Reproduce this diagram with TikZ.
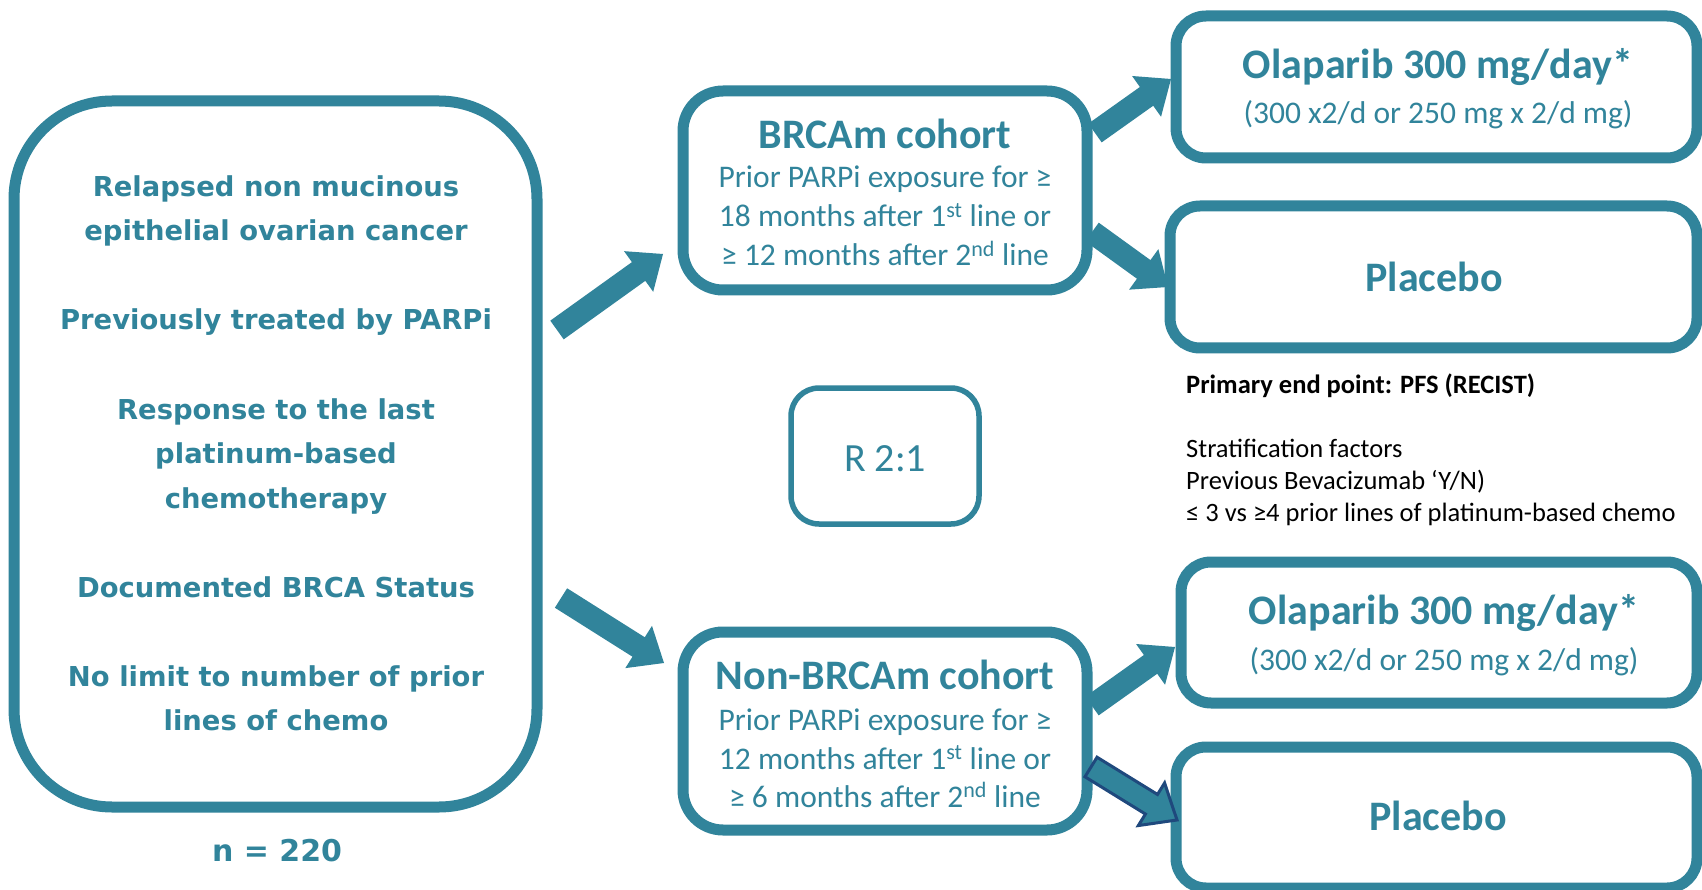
\documentclass[tikz,border=0pt]{standalone}
\usepackage{fontspec}
\setmainfont{Carlito}
\newfontfamily\verd{DejaVu Sans}
\usetikzlibrary{calc}
\definecolor{teal1}{RGB}{49,132,155}
\definecolor{navy1}{RGB}{31,73,125}
% block arrow from tail #2 to tip #3
\newcommand{\blockarrow}[3][]{%
  \coordinate (bh) at ($(#3)!30pt!(#2)$);
  \path[fill=teal1,#1] ($(#2)!11.5pt!90:(#3)$) -- ($(bh)!11.5pt!90:(#3)$)
    -- ($(bh)!25pt!90:(#3)$) -- (#3) -- ($(bh)!25pt!-90:(#3)$)
    -- ($(bh)!11.5pt!-90:(#3)$) -- ($(#2)!11.5pt!-90:(#3)$) -- cycle;}
\begin{document}
\begin{tikzpicture}[x=1pt,y=-1pt,
  box/.style={draw=teal1, line width=11pt, fill=white, rounded corners=#1, inner sep=0pt},
  crit/.style={font=\verd\bfseries\fontsize{27.4}{30}\selectfont, text=teal1, anchor=base, inner sep=0pt},
  ttl/.style={font=\bfseries\fontsize{42}{50}\selectfont, text=teal1, anchor=base, inner sep=0pt},
  bdy/.style={font=\fontsize{31.5}{38}\selectfont, text=teal1, anchor=base, inner sep=0pt},
  note/.style={font=\fontsize{26.5}{32}\selectfont, text=black, anchor=base west, inner sep=0pt}]
\fill[white] (0,0) rectangle (1702,890);
\useasboundingbox (0,0) rectangle (1702,890);

% boxes
\node[box=98pt, minimum width=523pt, minimum height=706pt] (left) at (275.5,454) {};
\node[box=40pt, minimum width=404pt, minimum height=199pt] (brca) at (885,190.5) {};
\node[box=40pt, minimum width=404pt, minimum height=198pt] (nbrca) at (885,731) {};
\node[box=28pt, line width=5.5pt, minimum width=188pt, minimum height=136pt] (rand) at (885,456) {};
\node[box=30pt, minimum width=521pt, minimum height=142pt] (ola1) at (1436.5,87) {};
\node[box=30pt, minimum width=527pt, minimum height=142pt] (pla1) at (1433.5,277) {};
\node[box=30pt, minimum width=516pt, minimum height=141pt] (ola2) at (1439,632.5) {};
\node[box=30pt, minimum width=521pt, minimum height=141pt] (pla2) at (1436.5,817.5) {};

% left criteria
\node[crit] (c1) at (276,196.5) {Relapsed non mucinous};
\node[crit] (c2) at (276,241) {epithelial ovarian cancer};
\node[crit] (c3) at (276,330) {Previously treated by PARPi};
\node[crit] (c4) at (276,419) {Response to the last};
\node[crit] (c5) at (276,463.5) {platinum-based};
\node[crit] (c6) at (276,508) {chemotherapy};
\node[crit] (c7) at (276,597) {Documented BRCA Status};
\node[crit] (c8) at (276,686) {No limit to number of prior};
\node[crit] (c9) at (276,730.5) {lines of chemo};
\node[crit, font=\verd\bfseries\fontsize{30}{34}\selectfont] (n) at (277,861) {n = 220};

% cohorts
\node[ttl] (bt) at (885,148.5) {BRCAm cohort};
\node[bdy] (b1) at (885,188) {Prior PARPi exposure for ≥};
\node[bdy] (b2) at (885,227) {18 months after 1\textsuperscript{st} line or};
\node[bdy] (b3) at (885,266) {≥ 12 months after 2\textsuperscript{nd} line};
\node[ttl] (nt) at (885,689.5) {Non-BRCAm cohort};
\node[bdy] (n1) at (885,730) {Prior PARPi exposure for ≥};
\node[bdy] (n2) at (885,769) {12 months after 1\textsuperscript{st} line or};
\node[bdy] (n3) at (885,807) {≥ 6 months after 2\textsuperscript{nd} line};
\node[bdy, font=\fontsize{40}{48}\selectfont] (r) at (885,471) {R 2:1};

% arms
\node[ttl] (o1t) at (1438,78.5) {Olaparib 300 mg/day*};
\node[bdy] (o1s) at (1438,124) {(300 x2/d or 250 mg x 2/d mg)};
\node[ttl] (p1t) at (1434,291.5) {Placebo};
\node[ttl] (o2t) at (1444,624.5) {Olaparib 300 mg/day*};
\node[bdy] (o2s) at (1444,670) {(300 x2/d or 250 mg x 2/d mg)};
\node[ttl] (p2t) at (1438,830.5) {Placebo};

% notes
\node[note, font=\bfseries\fontsize{26.5}{32}\selectfont] (pe) at (1186,393.5) {Primary end point: PFS (RECIST)};
\node[note] (s1) at (1186,457.5) {Stratification factors};
\node[note] (s2) at (1186,489.5) {Previous Bevacizumab ‘Y/N)};
\node[note] (s3) at (1186,521.5) {≤ 3 vs ≥4 prior lines of platinum-based chemo};

% arrows
\coordinate (a1t) at (557,330);  \coordinate (a1h) at (663,254);
\coordinate (a2t) at (561,598);  \coordinate (a2h) at (664,663);
\coordinate (a3t) at (1095,133); \coordinate (a3h) at (1171,79);
\coordinate (a4t) at (1092,232); \coordinate (a4h) at (1168,287);
\coordinate (a5t) at (1092,706); \coordinate (a5h) at (1175,647);
\coordinate (a6t) at (1091,767); \coordinate (a6h) at (1177,820);
\blockarrow{a1t}{a1h}
\blockarrow{a2t}{a2h}
\blockarrow{a3t}{a3h}
\blockarrow{a4t}{a4h}
\blockarrow{a5t}{a5h}
\blockarrow[draw=navy1, line width=3pt, line join=miter]{a6t}{a6h}
\end{tikzpicture}
\end{document}
